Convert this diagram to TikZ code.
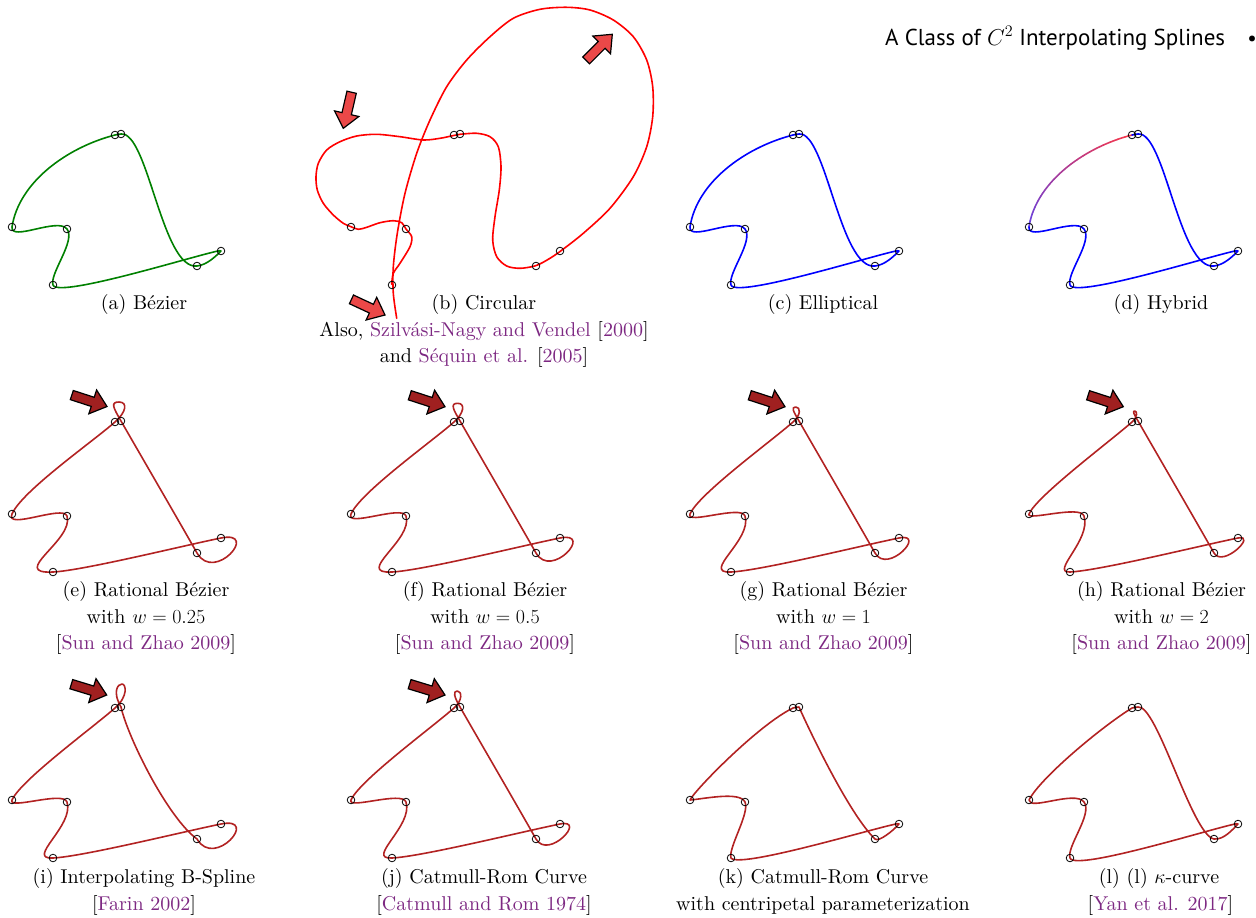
\RequirePackage{fix-cm}
\documentclass[tikz,border=0pt]{standalone}
\usepackage{fontspec}
\setmainfont{lmroman10}[Extension=.otf, UprightFont=*-regular, ItalicFont=*-italic, BoldFont=*-bold]
\newfontfamily\hdrfont{PT Sans}
\definecolor{acmpurple}{RGB}{125,40,130}
\definecolor{curvered}{RGB}{178,34,34}
\definecolor{arrowdark}{RGB}{160,32,32}
\definecolor{arrowlight}{RGB}{235,72,72}
\definecolor{bgreen}{RGB}{0,128,0}
\definecolor{gradA}{RGB}{105,65,220}
\definecolor{gradB}{RGB}{245,55,75}
\newcommand\purp[1]{\textcolor{acmpurple}{#1}}
\tikzset{
  captext/.style={anchor=base, inner sep=0pt, font=\fontsize{20}{26}\selectfont},
  ctlpt/.style={draw=black, line width=0.8pt},
  curvestyle/.style={line width=1.6pt, line join=round, line cap=round},
  arrowbox/.style={draw=black, line width=1.2pt, line join=miter},
}
\newcommand\ctlpoints{\foreach \q in {(12,227),(115,135),(121,134),(197,266),(221,251),(53,285),(67,229)} \draw[ctlpt] \q circle[radius=3.8];}
\newcommand\blockarrow[4]{\filldraw[arrowbox, fill=#1, shift={(#2,#3)}, rotate=#4] (0,0) -- (-15,-12.5) -- (-15,-4.8) -- (-37,-4.8) -- (-37,4.8) -- (-15,4.8) -- (-15,12.5) -- cycle;}
\def\segone{(12,227) .. controls (18.8,182.5) and (66.5,147.5) .. (115,135)}
\def\segrest{.. controls (117,134.5) and (119,134.2) .. (121,134) .. controls (148,131) and (162,270) .. (197,266) .. controls (207,265) and (216,256) .. (221,251) .. controls (225,246) and (58,300) .. (53,285) .. controls (49.4,273.6) and (76,241) .. (67,229) .. controls (58,217) and (10.5,242) .. (12,227)}
\def\lcurve{(12,227) .. controls (23.3,204.8) and (85.3,153.2) .. (115,135) .. controls (117,134.5) and (119,134.2) .. (121,134) .. controls (140,131) and (175,262) .. (197,266) .. controls (207,267) and (216,256) .. (221,251) .. controls (225,246) and (58,300) .. (53,285) .. controls (49.4,273.6) and (76,241) .. (67,229) .. controls (58,217) and (12,238) .. (12,227)}
\def\kcurve{(12,227) .. controls (16,218) and (80,152) .. (115,135) .. controls (117,134.5) and (119,134) .. (121,134) .. controls (128,150) and (170,240) .. (197,266) .. controls (200.6,269.5) and (216,257) .. (221,251) .. controls (226,246) and (62,297) .. (53,285) .. controls (50,275) and (72,240) .. (67,229) .. controls (62,218) and (25,226) .. (12,227)}
% #1 sR, #2 sL, #3 H, #4 W, #5 A, #6 Qx, #7 seg3 C1, #8 seg3 C2
\newcommand\loopcurve[8]{(12,227) .. controls ({12+0.4*(15+10*#2)},{227-0.92*(15+10*#2)}) and (92.5,154.8) .. (115,135)
 .. controls ({115+0.75*#5},{135-0.66*#5}) and ({#6+#4},{135-#3}) .. (#6,{135-#3})
 .. controls ({#6-#4},{135-#3}) and ({121-0.5*#5},{134-0.87*#5}) .. (121,134)
 .. controls #7 and #8 .. (197,266)
 .. controls ({197+0.5*35*#1},{266+0.87*35*#1}) and ({221+0.98*40*#1},{251-0.2*40*#1}) .. (221,251)
 .. controls (181.8,259) and (83,283.5) .. (53,285)
 .. controls ({53-45*#2},{285+2.25*#2}) and (74.5,252.75) .. (67,229)
 .. controls (63.4,217.6) and ({12-0.4*18*#2},{227+0.92*18*#2}) .. (12,227)}
\begin{document}
\begin{tikzpicture}[x=1pt,y=-1pt]
\useasboundingbox (0,0) rectangle (1256,918);
% header
\node[anchor=base west, inner sep=0pt, font=\hdrfont\fontsize{23}{26}\selectfont] (hdr) at (885,45) {A Class of $C^2$ Interpolating Splines};
\node[inner sep=0pt, font=\hdrfont\fontsize{21}{24}\selectfont] (bul) at (1252,41) {•};

% (a) Bezier
\begin{scope}
  \draw[curvestyle, draw=bgreen] \segone \segrest -- cycle;
  \ctlpoints
\end{scope}
\node[captext] (capa) at (144,309.5) {(a) Bézier};

% (b) Circular
\draw[curvestyle, draw=red] plot[smooth, tension=0.5] coordinates {
(391.7,284.3) (393.3,273.3) (400,263.3) (410,246.7) (411.7,236.7) (406,229)
(401.7,222.7) (393.3,220.7) (380,222.7) (366.7,227.3) (358.3,229.3) (351,226.7)
(343.3,223.3) (333.3,215) (323.3,203.3) (317.3,190) (316,176.7) (318.3,163.3)
(326.7,150) (340,141.7) (356.7,136) (376.7,134.3) (400,136.7) (423.3,140)
(440,138.3) (452.7,135.7) (460,134.3) (476.7,133.3) (490,136.7) (498.3,146.7)
(501,166.7) (499.3,190) (495,216.7) (492.7,240) (496.7,256.7) (506.7,266)
(520,268.3) (535.7,265.7) (548.3,259.3) (560.7,251) (583.3,233.3) (610,208.3)
(633.3,176.7) (646.7,146.7) (652.7,116.7) (652.7,86.7) (646.7,60) (633.3,36.7)
(613.3,20) (590,10) (566.7,7.3) (540,9.3) (513.3,18.3) (490,36.7) (466.7,60)
(446.7,86.7) (430,120) (416.7,153.3) (405,193.3) (397.3,233.3) (393.3,266.7)
(393.3,293.3) (396.7,318.3)};
\begin{scope}[shift={(339,0)}]
  \ctlpoints
\end{scope}
\blockarrow{arrowlight}{343.3}{128.3}{-103}
\blockarrow{arrowlight}{612.3}{34.3}{45}
\blockarrow{arrowlight}{385}{315}{-25}
\node[captext] (capb1) at (484,309.5) {(b) Circular};
\node[captext] (capb2) at (484,336) {Also, \purp{Szilvási-Nagy and Vendel} [\purp{2000}]};
\node[captext] (capb3) at (484,362.5) {and \purp{Séquin et al.} [\purp{2005}]};

% (c) Elliptical
\begin{scope}[shift={(678,0)}]
  \draw[curvestyle, draw=blue] \segone \segrest -- cycle;
  \ctlpoints
\end{scope}
\node[captext] (capc) at (823,309.5) {(c) Elliptical};

% (d) Hybrid
\begin{scope}[shift={(1017,0)}]
  \foreach \i in {0,...,19}{
    \pgfmathsetmacro\ta{\i/20}
    \pgfmathsetmacro\tb{(\i+1)/20}
    \pgfmathtruncatemacro\pct{100*\i/19}
    \draw[curvestyle, draw=gradB!\pct!gradA] plot[domain=\ta:\tb, samples=5, variable=\t]
      ({(1-\t)^3*12+3*(1-\t)^2*\t*18.8+3*(1-\t)*\t^2*66.5+\t^3*115},
       {(1-\t)^3*227+3*(1-\t)^2*\t*182.5+3*(1-\t)*\t^2*147.5+\t^3*135});
  }
  \draw[curvestyle, draw=blue] (115,135) \segrest;
  \ctlpoints
\end{scope}
\node[captext] (capd) at (1161,309.5) {(d) Hybrid};

% Row 2: rational Bezier
\begin{scope}[shift={(0,287)}]
  \draw[curvestyle, draw=curvered] \loopcurve{1}{1}{20}{9}{15}{119}{(141,168.8)}{(177,230.7)} -- cycle;
  \ctlpoints
  \blockarrow{arrowdark}{107}{119.5}{-18}
\end{scope}
\node[captext] (cape1) at (146,596.5) {(e) Rational Bézier};
\node[captext] (cape2) at (146,623) {with $w = 0.25$};
\node[captext] (cape3) at (146,649.5) {[\purp{Sun and Zhao 2009}]};

\begin{scope}[shift={(339,287)}]
  \draw[curvestyle, draw=curvered] \loopcurve{0.88}{0.85}{18.7}{8}{13}{118.7}{(141,168.8)}{(177,230.7)} -- cycle;
  \ctlpoints
  \blockarrow{arrowdark}{106}{119.7}{-18}
\end{scope}
\node[captext] (capf1) at (485,596.5) {(f) Rational Bézier};
\node[captext] (capf2) at (485,623) {with $w = 0.5$};
\node[captext] (capf3) at (485,649.5) {[\purp{Sun and Zhao 2009}]};

\begin{scope}[shift={(678,287)}]
  \draw[curvestyle, draw=curvered] \loopcurve{0.72}{0.68}{15}{5}{11}{117.7}{(141,168.8)}{(177,230.7)} -- cycle;
  \ctlpoints
  \blockarrow{arrowdark}{107}{119.7}{-18}
\end{scope}
\node[captext] (capg1) at (823.5,596.5) {(g) Rational Bézier};
\node[captext] (capg2) at (823.5,623) {with $w = 1$};
\node[captext] (capg3) at (823.5,649.5) {[\purp{Sun and Zhao 2009}]};

\begin{scope}[shift={(1017,287)}]
  \draw[curvestyle, draw=curvered] \loopcurve{0.5}{0.45}{11}{2.5}{8}{117.7}{(141,168.8)}{(177,230.7)} -- cycle;
  \ctlpoints
  \blockarrow{arrowdark}{106.3}{119.7}{-18}
\end{scope}
\node[captext] (caph1) at (1161.5,596.5) {(h) Rational Bézier};
\node[captext] (caph2) at (1161.5,623) {with $w = 2$};
\node[captext] (caph3) at (1161.5,649.5) {[\purp{Sun and Zhao 2009}]};

% Row 3
\begin{scope}[shift={(0,573)}]
  \draw[curvestyle, draw=curvered] \loopcurve{1}{0.62}{24}{4}{18}{122}{(128,165)}{(168,245)} -- cycle;
  \ctlpoints
  \blockarrow{arrowdark}{106.7}{122}{-17}
\end{scope}
\node[captext] (capi1) at (144,883.5) {(i) Interpolating B-Spline};
\node[captext] (capi2) at (144,910) {[\purp{Farin 2002}]};

\begin{scope}[shift={(339,573)}]
  \draw[curvestyle, draw=curvered] \loopcurve{0.7}{0.6}{17}{4.5}{12}{118.3}{(141,168.8)}{(177,230.7)} -- cycle;
  \ctlpoints
  \blockarrow{arrowdark}{106}{122}{-17}
\end{scope}
\node[captext] (capj1) at (484,883.5) {(j) Catmull-Rom Curve};
\node[captext] (capj2) at (484,910) {[\purp{Catmull and Rom 1974}]};

\begin{scope}[shift={(678,573)}]
  \draw[curvestyle, draw=curvered] \kcurve -- cycle;
  \ctlpoints
\end{scope}
\node[captext] (capk1) at (823,883.5) {(k) Catmull-Rom Curve};
\node[captext] (capk2) at (823,910) {with centripetal parameterization};

\begin{scope}[shift={(1017,573)}]
  \draw[curvestyle, draw=curvered] \lcurve -- cycle;
  \ctlpoints
\end{scope}
\node[captext] (capl1) at (1159,883.5) {(l) (l) $\kappa$-curve};
\node[captext] (capl2) at (1160.5,910) {[\purp{Yan et al. 2017}]};
\end{tikzpicture}
\end{document}
